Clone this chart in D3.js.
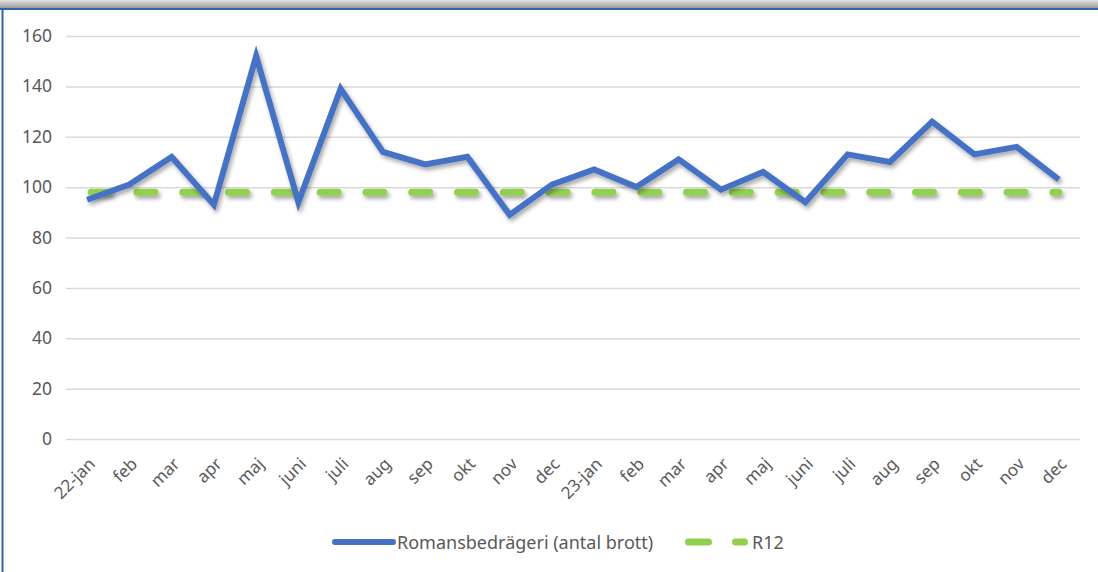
<!DOCTYPE html>
<meta charset="utf-8">
<script src="https://d3js.org/d3.v7.min.js"></script>
<style>
  body { margin: 0; background: #fff; }
  text { font-family: "Noto Sans", "Open Sans", sans-serif; fill: #595959; }
</style>
<div id="chart"></div>
<script>
    // data
    const months = ["22-jan", "feb", "mar", "apr", "maj", "juni", "juli", "aug", "sep", "okt", "nov", "dec",
                    "23-jan", "feb", "mar", "apr", "maj", "juni", "juli", "aug", "sep", "okt", "nov", "dec"];
    const brott = [95, 101, 112, 93, 152, 94, 139, 114, 109, 112, 89, 101,
                   107, 100, 111, 99, 106, 94, 113, 110, 126, 113, 116, 103];
    const r12 = [98, 98, 98, 98, 98, 98, 98, 98, 98, 98, 98, 98,
                 98, 98, 98, 98, 98, 98, 98, 98, 98, 98, 98, 98];
    const yTicks = [0, 20, 40, 60, 80, 100, 120, 140, 160];
    const seriesNames = ["Romansbedrägeri (antal brott)", "R12"];

    const W = 1098, H = 572;
    const margin = {top: 36, right: 18, bottom: 133, left: 66};

    const svg = d3.select("#chart")
      .append("svg")
        .attr("width", W)
        .attr("height", H);

    const defs = svg.append("defs");
    const grad = defs.append("linearGradient")
        .attr("id", "topShade").attr("x1", 0).attr("y1", 0).attr("x2", 0).attr("y2", 1);
    grad.append("stop").attr("offset", "0%").attr("stop-color", "#e2e2e2");
    grad.append("stop").attr("offset", "100%").attr("stop-color", "#9c9c9c");

    // soft shadow under the lines (user space, so flat lines still render)
    const shadow = defs.append("filter")
        .attr("id", "shadow").attr("filterUnits", "userSpaceOnUse")
        .attr("x", 0).attr("y", 0).attr("width", W).attr("height", H);
    shadow.append("feDropShadow")
        .attr("dx", 2).attr("dy", 3).attr("stdDeviation", 2)
        .attr("flood-color", "#000").attr("flood-opacity", 0.35);

    // frame: grey shade on top, blue border line
    svg.append("rect").attr("x", 0).attr("y", 0).attr("width", W).attr("height", 8)
        .attr("fill", "url(#topShade)");
    svg.append("line").attr("x1", 0).attr("x2", W).attr("y1", 9).attr("y2", 9)
        .attr("stroke", "#2f65a7").attr("stroke-width", 2);
    svg.append("line").attr("x1", 2.5).attr("x2", 2.5).attr("y1", 9).attr("y2", H)
        .attr("stroke", "#2f65a7").attr("stroke-width", 2);

    const x = d3.scalePoint()
      .domain(d3.range(months.length))
      .range([margin.left, W - margin.right])
      .padding(0.5);

    const y = d3.scaleLinear()
      .domain([0, 160])
      .range([H - margin.bottom, margin.top]);

    // gridlines + y labels
    const yAxis = svg.append("g")
      .attr("transform", `translate(${margin.left},0)`)
      .call(d3.axisLeft(y).tickValues(yTicks).tickSize(-(W - margin.left - margin.right)).tickPadding(14));
    yAxis.select(".domain").remove();
    yAxis.selectAll(".tick line").attr("stroke", "#d9d9d9").attr("stroke-width", 1.5);
    yAxis.selectAll(".tick text")
      .attr("font-size", 17.5)
      .attr("font-family", "'Noto Sans', sans-serif")
      .attr("fill", "#595959");

    // x labels, rotated
    svg.append("g")
      .selectAll("text")
      .data(months)
      .join("text")
        .attr("transform", (d, i) => `translate(${x(i) + 9},${y(0) + 26}) rotate(-45)`)
        .attr("text-anchor", "end")
        .attr("font-size", 17)
        .text(d => d);

    // lines
    const line = d3.line()
      .x((d, i) => x(i))
      .y(d => y(d));

    svg.append("path")
      .datum(r12)
      .attr("fill", "none")
      .attr("stroke", "#92d050")
      .attr("stroke-width", 7)
      .attr("stroke-linecap", "round")
      .attr("stroke-dasharray", "18 27.8")
      .attr("stroke-dashoffset", -4)
      .attr("filter", "url(#shadow)")
      .attr("d", line);

    svg.append("path")
      .datum(brott)
      .attr("fill", "none")
      .attr("stroke", "#4472c4")
      .attr("stroke-width", 6)
      .attr("stroke-linejoin", "miter")
      .attr("filter", "url(#shadow)")
      .attr("d", line);

    // legend
    const legend = svg.append("g").attr("transform", "translate(0,542)");
    legend.append("line")
      .attr("x1", 335).attr("x2", 393).attr("y1", 0).attr("y2", 0)
      .attr("stroke", "#4472c4").attr("stroke-width", 6).attr("stroke-linecap", "round");
    legend.append("text")
      .attr("x", 397).attr("y", 6.5)
      .attr("font-size", 18)
      .text(seriesNames[0]);
    legend.append("line")
      .attr("x1", 688.5).attr("x2", 744.5).attr("y1", 0).attr("y2", 0)
      .attr("stroke", "#92d050").attr("stroke-width", 7).attr("stroke-linecap", "round")
      .attr("stroke-dasharray", "20 27");
    legend.append("text")
      .attr("x", 752).attr("y", 6.5)
      .attr("font-size", 18)
      .text(seriesNames[1]);
</script>
